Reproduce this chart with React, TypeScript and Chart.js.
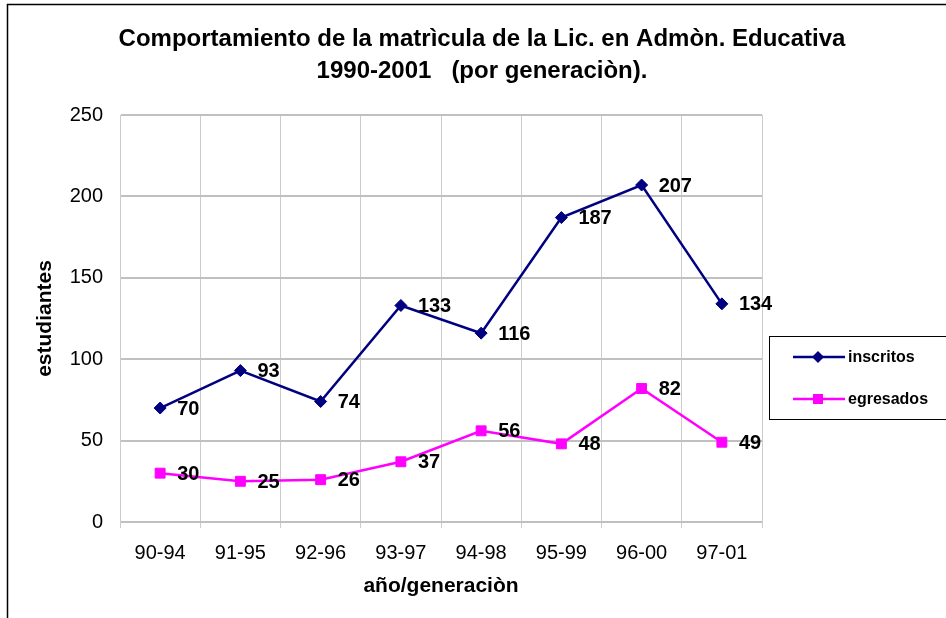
import React, { useEffect, useRef } from "react";
import { Chart, registerables } from "chart.js";

Chart.register(...registerables);

const categories = ["90-94", "91-95", "92-96", "93-97", "94-98", "95-99", "96-00", "97-01"];
const inscritos = [70, 93, 74, 133, 116, 187, 207, 134];
const egresados = [30, 25, 26, 37, 56, 48, 82, 49];
const seriesNames = ["inscritos", "egresados"];
const titleLines = [
  "Comportamiento de la matrìcula de la Lic. en Admòn. Educativa",
  "1990-2001   (por generaciòn).",
];
const xTitle = "año/generaciòn";
const yTitle = "estudiantes";

const FONT = "'Liberation Sans', Arial, Helvetica, sans-serif";
const NAVY = "#000080";
const MAGENTA = "#ff00ff";

const framePlugin = {
  id: "frame",
  beforeDraw(chart: any) {
    const ctx = chart.ctx;
    ctx.save();
    ctx.fillStyle = "#ffffff";
    ctx.fillRect(0, 0, chart.width, chart.height);
    ctx.strokeStyle = "#000000";
    ctx.lineWidth = 1.5;
    ctx.beginPath();
    ctx.moveTo(7.5, chart.height);
    ctx.lineTo(7.5, 4.5);
    ctx.lineTo(chart.width, 4.5);
    ctx.stroke();
    ctx.restore();
  },
};

const labelsPlugin = {
  id: "pointLabels",
  afterDatasetsDraw(chart: any) {
    const ctx = chart.ctx;
    ctx.save();
    ctx.font = `bold 20px ${FONT}`;
    ctx.fillStyle = "#000000";
    ctx.textAlign = "left";
    ctx.textBaseline = "middle";
    chart.data.datasets.forEach((ds: any, di: number) => {
      const meta = chart.getDatasetMeta(di);
      meta.data.forEach((pt: any, i: number) => {
        ctx.fillText(String(ds.data[i]), pt.x + 17, pt.y + 1);
      });
    });
    ctx.restore();
  },
};

const legendPlugin = {
  id: "boxLegend",
  afterDraw(chart: any) {
    const ctx = chart.ctx;
    ctx.save();
    ctx.strokeStyle = "#000000";
    ctx.lineWidth = 1;
    ctx.strokeRect(769.5, 336.5, 200, 83);
    const ys = [357, 399];
    chart.data.datasets.forEach((ds: any, di: number) => {
      const y = ys[di];
      ctx.strokeStyle = ds.borderColor;
      ctx.lineWidth = 2.5;
      ctx.beginPath();
      ctx.moveTo(793, y);
      ctx.lineTo(845, y);
      ctx.stroke();
      ctx.fillStyle = ds.backgroundColor;
      if (ds.pointStyle === "rectRot") {
        ctx.beginPath();
        ctx.moveTo(818, y - 6);
        ctx.lineTo(824, y);
        ctx.lineTo(818, y + 6);
        ctx.lineTo(812, y);
        ctx.closePath();
        ctx.fill();
      } else {
        ctx.fillRect(813, y - 5, 10, 10);
      }
      ctx.fillStyle = "#000000";
      ctx.font = `bold 16px ${FONT}`;
      ctx.textAlign = "left";
      ctx.textBaseline = "middle";
      ctx.fillText(ds.label, 848, y + 1);
    });
    ctx.restore();
  },
};

export default function App() {
  const ref = useRef<HTMLCanvasElement | null>(null);

  useEffect(() => {
    if (!ref.current) return;
    Chart.defaults.font.family = FONT;
    const chart = new Chart(ref.current, {
      type: "line",
      data: {
        labels: categories,
        datasets: [
          {
            label: seriesNames[0],
            data: inscritos,
            borderColor: NAVY,
            backgroundColor: NAVY,
            borderWidth: 2.5,
            pointStyle: "rectRot",
            pointRadius: 6,
            pointBorderWidth: 1,
            tension: 0,
            yAxisID: "y",
          },
          {
            label: seriesNames[1],
            data: egresados,
            borderColor: MAGENTA,
            backgroundColor: MAGENTA,
            borderWidth: 2.5,
            pointStyle: "rect",
            pointRadius: 7,
            pointBorderWidth: 1,
            tension: 0,
            yAxisID: "y",
          },
        ],
      },
      options: {
        animation: false,
        responsive: false,
        devicePixelRatio: 1,
        events: [],
        layout: { padding: { left: 18, top: 0, right: 0, bottom: 0 } },
        plugins: {
          legend: { display: false },
          tooltip: { enabled: false },
          title: {
            display: true,
            text: titleLines,
            color: "#000000",
            font: { family: FONT, size: 24, weight: "bold", lineHeight: 32 / 24 },
            padding: { top: 23, bottom: 28 },
          },
        },
        scales: {
          x: {
            offset: true,
            grid: {
              offset: true,
              color: "#cccccc",
              lineWidth: 1,
              drawTicks: true,
              tickLength: 6,
            },
            border: { display: false },
            ticks: {
              color: "#000000",
              font: { family: FONT, size: 20 },
              padding: 13,
              maxRotation: 0,
            },
            title: {
              display: true,
              text: xTitle,
              color: "#000000",
              font: { family: FONT, size: 21, weight: "bold" },
              padding: { top: 0, bottom: 19 },
            },
            afterFit: (s: any) => {
              s.height = 96;
            },
          },
          y: {
            position: "left",
            min: 0,
            max: 250,
            grid: {
              color: "#c0c0c0",
              lineWidth: 2,
              drawTicks: false,
            },
            border: { display: true, color: "#cccccc", width: 1 },
            ticks: {
              stepSize: 50,
              color: "#000000",
              font: { family: FONT, size: 20 },
              padding: 17,
            },
            title: {
              display: true,
              text: yTitle,
              color: "#000000",
              font: { family: FONT, size: 21, weight: "bold" },
              padding: { top: 15, bottom: 0 },
            },
            afterFit: (s: any) => {
              s.width = 102;
            },
          },
          ySpace: {
            type: "linear",
            position: "right",
            display: true,
            min: 0,
            max: 250,
            grid: { display: false, drawTicks: false },
            border: { display: false },
            ticks: { display: false },
            title: { display: false },
            afterFit: (s: any) => {
              s.width = 184;
            },
          },
        },
      },
      plugins: [framePlugin, labelsPlugin, legendPlugin],
    });
    return () => chart.destroy();
  }, []);

  return (
    <div style={{ position: "absolute", left: 0, top: 0, width: 946, height: 618 }}>
      <canvas ref={ref} width={946} height={618} style={{ display: "block" }} />
    </div>
  );
}
